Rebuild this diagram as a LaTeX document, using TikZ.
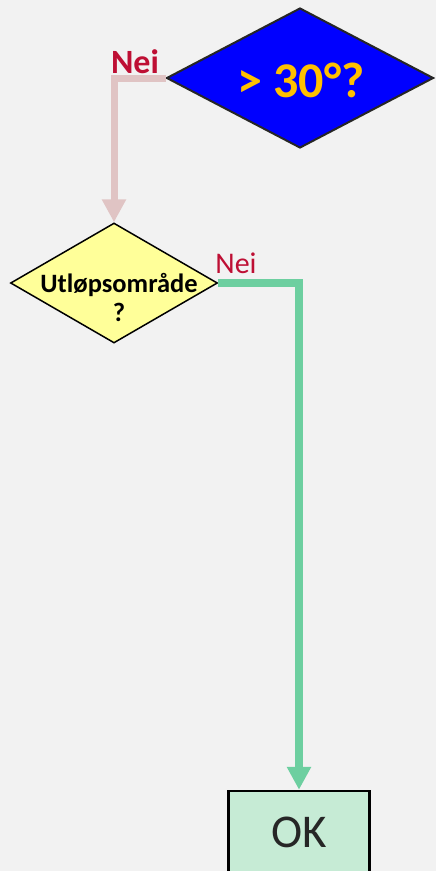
\documentclass[tikz,border=0pt]{standalone}
\usepackage{fontspec}
\setmainfont{Carlito}
\usetikzlibrary{shapes.geometric,arrows.meta}
\definecolor{bg}{HTML}{F2F2F2}
\definecolor{pinkline}{HTML}{E0C4C4}
\definecolor{greenline}{HTML}{6DCFA0}
\definecolor{okfill}{HTML}{C6EBD5}
\definecolor{neired}{HTML}{BE0F34}
\definecolor{gold}{HTML}{FFC000}
\definecolor{dblue}{HTML}{0000FF}
\definecolor{lyellow}{HTML}{FFFF99}
\definecolor{okgray}{HTML}{262626}
\tikzset{
  decision/.style={diamond, inner sep=0pt, draw},
  conn/.style={line width=#1, -{Triangle[width=23pt,length=23pt]}},
  neilabel/.style={text=neired, inner sep=0pt},
}
\begin{document}
\begin{tikzpicture}[x=1pt,y=-1pt]
\useasboundingbox (0,0) rectangle (436,871);
\clip (0,0) rectangle (436,871);
\fill[bg] (0,0) rectangle (436,871);
\node[decision, fill=dblue, draw=okgray, line width=2pt, minimum width=267pt, minimum height=140pt] (d1) at (300,78) {};
\node[text=gold, font=\fontsize{50}{52}\selectfont\bfseries, inner sep=0pt] (t1) at (301,80) {> 30°?};
\node[decision, fill=lyellow, draw=black, line width=1.5pt, minimum width=207pt, minimum height=120pt] (d2) at (114,283) {};
\node[font=\fontsize{26.5}{29}\selectfont\bfseries, align=center, inner sep=0pt] (t2) at (119,297) {Utløpsområde\\?};
\node[draw=black, fill=okfill, line width=2.5pt, minimum width=141pt, minimum height=82pt, inner sep=0pt, text=okgray, font=\fontsize{47}{50}\selectfont] (ok) at (299,832) {OK};
\draw[conn=7pt, pinkline] (d1.west) -| (d2.north);
\draw[conn=8pt, greenline] (d2.east) -| (ok.north);
\node[neilabel, font=\fontsize{34}{36}\selectfont\bfseries] (n1) at (135,62) {Nei};
\node[neilabel, font=\fontsize{30}{32}\selectfont] (n2) at (236,263) {Nei};
\end{tikzpicture}
\end{document}
